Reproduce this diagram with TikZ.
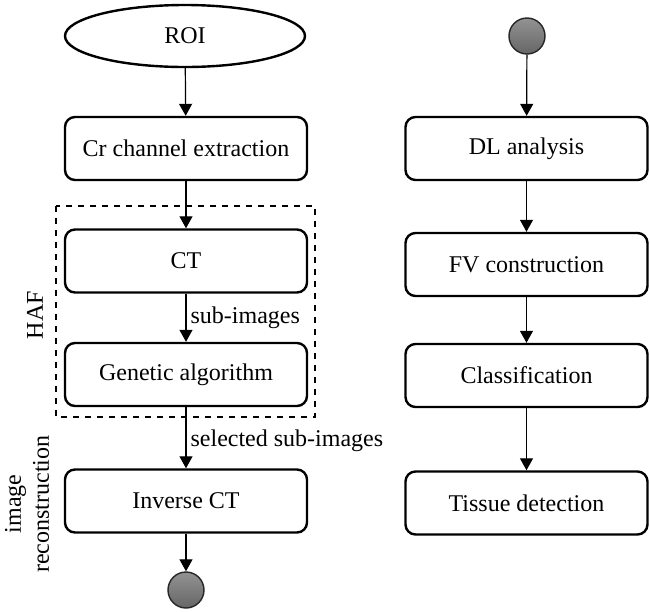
\documentclass[tikz,border=0pt]{standalone}
\usepackage{fontspec}
\setmainfont{Liberation Serif}
\usetikzlibrary{shapes.geometric,arrows.meta,shadings}
\begin{document}
\begin{tikzpicture}[x=0.5pt,y=-0.5pt,
  every node/.style={font=\fontsize{12}{14}\selectfont},
  procbox/.style={draw,line width=1.2pt,rounded corners=5pt,minimum width=121pt,minimum height=31.5pt,inner sep=0pt},
  roibox/.style={draw,line width=1.2pt,ellipse,minimum width=120pt,minimum height=31pt,inner sep=0pt},
  endpt/.style={circle,draw=black!85,line width=0.7pt,minimum size=18pt,inner sep=0pt,top color=gray!85,bottom color=gray!80!black},
  flow/.style={-{Triangle[width=6.5pt,length=6pt]},line width=0.6pt},
  lbl/.style={right,inner sep=2pt}]
\useasboundingbox (0,0) rectangle (650,612);
% left column
\node[roibox] (roi) at (185,36) {ROI};
\node[procbox] (cr) at (186,148.5) {Cr channel extraction};
\node[procbox] (ct) at (186,261) {CT};
\node[procbox] (ga) at (186,374.5) {Genetic algorithm};
\node[procbox] (ict) at (186,501) {Inverse CT};
\node[endpt] (e1) at (186,590) {};
\draw[dashed,line width=0.6pt] (56,206) rectangle (315,417);
\node[rotate=90] (haf) at (35,315) {HAF};
\node[rotate=90,align=center] (imr) at (27,504) {image\\reconstruction};
\draw[flow] (roi) -- (cr);
\draw[flow] (cr) -- (ct);
\draw[flow] (ct) -- node[lbl] (l1) {sub-images} (ga);
\draw[flow] (ga) -- node[lbl,yshift=-1.5pt] (l2) {selected sub-images} (ict);
\draw[flow] (ict) -- (e1);
% right column
\node[endpt] (s1) at (527,36) {};
\node[procbox] (dl) at (526.5,148.5) {DL analysis};
\node[procbox] (fv) at (526.5,264.5) {FV construction};
\node[procbox] (cl) at (526.5,375.5) {Classification};
\node[procbox] (td) at (526.5,503) {Tissue detection};
\draw[flow] (s1) -- (dl);
\draw[flow] (dl) -- (fv);
\draw[flow] (fv) -- (cl);
\draw[flow] (cl) -- (td);
\end{tikzpicture}
\end{document}
